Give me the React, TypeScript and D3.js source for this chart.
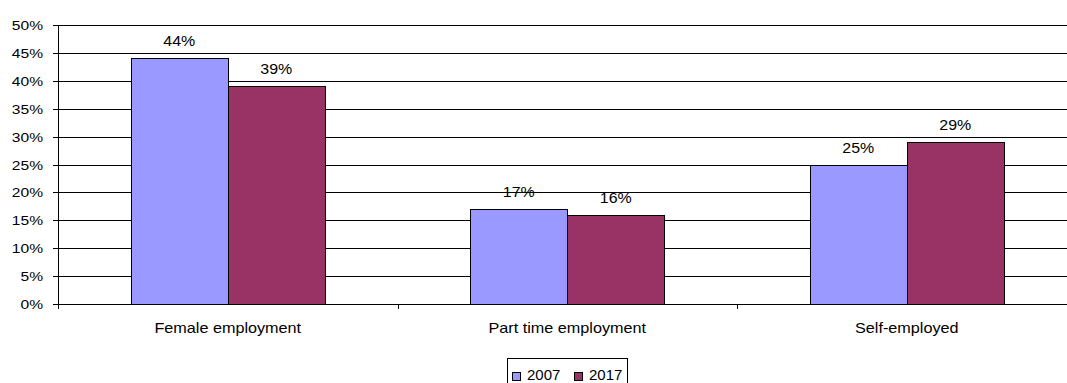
import React from "react";
import * as d3 from "d3";

const categories = ["Female employment", "Part time employment", "Self-employed"];
const years = ["2007", "2017"];
const values2007 = [0.44, 0.17, 0.25];
const values2017 = [0.39, 0.16, 0.29];
const yTicks = [0, 0.05, 0.1, 0.15, 0.2, 0.25, 0.3, 0.35, 0.4, 0.45, 0.5];
const colors = ["#9999FF", "#993366"];

const W = 1067;
const H = 383;
const FONT = "'Liberation Sans', Arial, sans-serif";

function T(props: { x: number; y: number; anchor?: string; size: number; sx?: number; children: any }) {
  const { x, y, anchor = "middle", size, sx = 1, children } = props;
  return (
    <text
      transform={`translate(${x},${y}) scale(${sx},1)`}
      textAnchor={anchor}
      fontSize={size}
      fontFamily={FONT}
      fill="#000"
    >
      {children}
    </text>
  );
}

export default function App() {
  const left = 58;
  const step = 339.5;
  const p = 145.5 / 339.5;
  const x0 = d3
    .scaleBand<string>()
    .domain(categories)
    .range([left, left + step * 3])
    .paddingInner(p)
    .paddingOuter(p / 2);
  const x1 = d3.scaleBand<string>().domain(years).range([0, x0.bandwidth()]);
  const y = d3.scaleLinear().domain([0, 0.5]).range([304, 25]);
  const series = [values2007, values2017];
  const pctFmt = d3.format(".0%");
  const right = left + step * 3;

  return (
    <svg
      width={W}
      height={H}
      style={{ position: "absolute", left: 0, top: 0, background: "#fff" }}
    >
      <rect x={0} y={0} width={W} height={H} fill="#fff" />
      {/* gridlines */}
      {yTicks.map((t) => (
        <line
          key={"g" + t}
          x1={left}
          x2={right}
          y1={Math.round(y(t)) + 0.5}
          y2={Math.round(y(t)) + 0.5}
          stroke="#000"
          strokeWidth={1}
        />
      ))}
      {/* y tick marks and labels */}
      {yTicks.map((t) => (
        <g key={"t" + t}>
          <line
            x1={left - 5}
            x2={left}
            y1={Math.round(y(t)) + 0.5}
            y2={Math.round(y(t)) + 0.5}
            stroke="#000"
          />
          <T x={43} y={y(t) + 5} anchor="end" size={13} sx={1.2}>
            {pctFmt(t)}
          </T>
        </g>
      ))}
      {/* bars */}
      {categories.map((c, i) => (
        <g key={c}>
          {years.map((yr, j) => {
            const v = series[j][i];
            const bx = (x0(c) as number) + (x1(yr) as number);
            const bw = x1.bandwidth();
            return (
              <g key={yr}>
                <rect
                  x={Math.round(bx) + 0.5}
                  y={Math.round(y(v)) + 0.5}
                  width={Math.round(bw)}
                  height={Math.round(y(0)) - Math.round(y(v))}
                  fill={colors[j]}
                  stroke="#000"
                  strokeWidth={1}
                />
                <T x={bx + bw / 2} y={y(v) - 12} size={14} sx={1.14}>
                  {pctFmt(v)}
                </T>
              </g>
            );
          })}
          <T x={(x0(c) as number) + x0.bandwidth() / 2} y={333} size={15} sx={1.08}>
            {c}
          </T>
        </g>
      ))}
      {/* axes */}
      <line x1={left + 0.5} x2={left + 0.5} y1={y(0.5)} y2={y(0) + 5} stroke="#000" />
      <line
        x1={left}
        x2={right}
        y1={Math.round(y(0)) + 0.5}
        y2={Math.round(y(0)) + 0.5}
        stroke="#000"
      />
      {[1, 2].map((k) => (
        <line
          key={"xt" + k}
          x1={Math.round(left + step * k) + 0.5}
          x2={Math.round(left + step * k) + 0.5}
          y1={y(0)}
          y2={y(0) + 5}
          stroke="#000"
        />
      ))}
      {/* legend */}
      <rect x={507.5} y={358.5} width={120} height={30} fill="#fff" stroke="#000" />
      {years.map((yr, j) => (
        <g key={"l" + yr}>
          <rect
            x={512.5 + j * 62}
            y={372.5}
            width={8}
            height={8}
            fill={colors[j]}
            stroke="#000"
          />
          <T x={527 + j * 62} y={380} anchor="start" size={15}>
            {yr}
          </T>
        </g>
      ))}
    </svg>
  );
}
